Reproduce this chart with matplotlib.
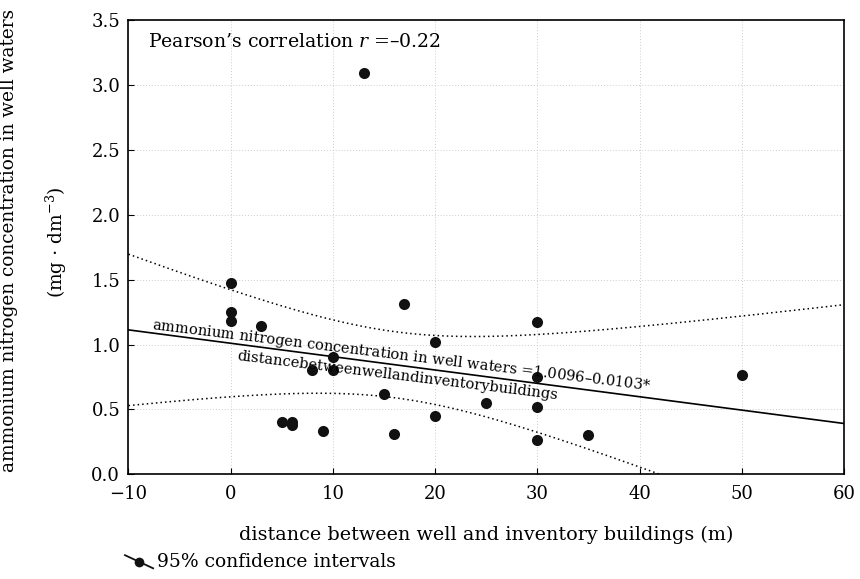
import matplotlib.pyplot as plt
import numpy as np
from matplotlib.legend_handler import HandlerLine2D

# distance between well and inventory buildings (m)
distance = [0, 0, 0, 3, 13, 17, 20, 30, 10, 10, 8, 15, 30, 30, 25, 50,
            5, 6, 6, 9, 16, 20, 30, 35]
# ammonium nitrogen concentration (mg/dm3)
ammonium = [1.47, 1.25, 1.18, 1.14, 3.09, 1.31, 1.02, 1.17, 0.905, 0.80, 0.80, 0.62,
            0.75, 0.52, 0.55, 0.765, 0.40, 0.40, 0.38, 0.33, 0.31, 0.45, 0.265, 0.30]

intercept = 1.0096
slope = -0.0103
t_crit = 2.074  # df = 22, 95%

x = np.array(distance, dtype=float)
y = np.array(ammonium)
n = len(x)
resid = y - (intercept + slope * x)
s = np.sqrt(np.sum(resid ** 2) / (n - 2))
sxx = np.sum((x - x.mean()) ** 2)

xx = np.linspace(-10, 60, 200)
fit = intercept + slope * xx
hw = t_crit * s * np.sqrt(1 / n + (xx - x.mean()) ** 2 / sxx)

plt.rcParams['font.family'] = ['DejaVu Serif']
plt.rcParams['mathtext.fontset'] = 'dejavuserif'

fig = plt.figure(figsize=(8.6, 5.79), dpi=100)
ax = fig.add_axes([0.1494, 0.1808, 0.832, 0.7847])

ax.grid(color='#cccccc', linestyle=(0, (1, 2)), linewidth=0.7)
ax.set_axisbelow(True)
ax.plot(xx, fit, color='black', lw=1.2)
ax.plot(xx, fit + hw, color='black', lw=1.1, linestyle=(0, (1, 2)))
ax.plot(xx, fit - hw, color='black', lw=1.1, linestyle=(0, (1, 2)))
ax.plot(x, y, 'o', color='#111111', ms=8, mew=0)

ax.set_xlim(-10, 60)
ax.set_ylim(0, 3.5)
ax.set_xticks(range(-10, 61, 10))
ax.set_yticks(np.arange(0, 3.51, 0.5))
ax.set_xticklabels(['\u221210', '0', '10', '20', '30', '40', '50', '60'])
ax.set_yticklabels(['%.1f' % v for v in np.arange(0, 3.51, 0.5)])
ax.tick_params(direction='in', length=4, labelsize=13)
ax.tick_params(axis='x', pad=8)
ax.tick_params(axis='y', pad=6)
for sp in ax.spines.values():
    sp.set_linewidth(1.2)

ax.set_xlabel('distance between well and inventory buildings (m)', fontsize=13.8, labelpad=16)

# two-line y label, placed by hand
fig.text(0.0105, 1 - 240 / 579, 'ammonium nitrogen concentration in well waters',
         rotation=90, ha='center', va='center', fontsize=13.3)
fig.text(0.066, 1 - 242 / 579, '(mg $\\cdot$ dm$^{-3}$)',
         rotation=90, ha='center', va='center', fontsize=13.3)

ax.text(0.027, 0.952, 'Pearson\u2019s correlation $\\it{r}$ =\u20130.22', transform=ax.transAxes,
        fontsize=13.6, va='center')

ang = -7
ax.text(-7.69, 1.119, 'ammonium nitrogen concentration in well waters =$\\mathit{1.0096\u20130.0103}$*',
        rotation=ang, rotation_mode='anchor', fontsize=10.5, va='baseline')
ax.text(0.59, 0.881, 'distancebetweenwellandinventorybuildings',
        rotation=ang, rotation_mode='anchor', fontsize=10.5, va='baseline')


class SlantHandler(HandlerLine2D):
    def create_artists(self, legend, orig_handle, xdescent, ydescent, width, height, fontsize, trans):
        arts = super().create_artists(legend, orig_handle, xdescent, ydescent, width, height,
                                      fontsize, trans)
        line = arts[0]
        xd = np.asarray(line.get_xdata())
        line.set_ydata(np.linspace(height * 0.9, -height * 0.1, len(xd)) - ydescent)
        return arts


handle, = ax.plot([], [], '-o', color='#111111', ms=7, lw=1.3, mew=0)
fig.legend([handle], ['95% confidence intervals'], loc='center left',
           bbox_to_anchor=(125 / 860, 1 - 562 / 579), frameon=False, fontsize=13.5,
           borderpad=0, borderaxespad=0,
           handlelength=1.5, handletextpad=0.2, numpoints=1,
           handler_map={handle: SlantHandler(numpoints=1)})

fig.savefig('out.png', dpi=100)
